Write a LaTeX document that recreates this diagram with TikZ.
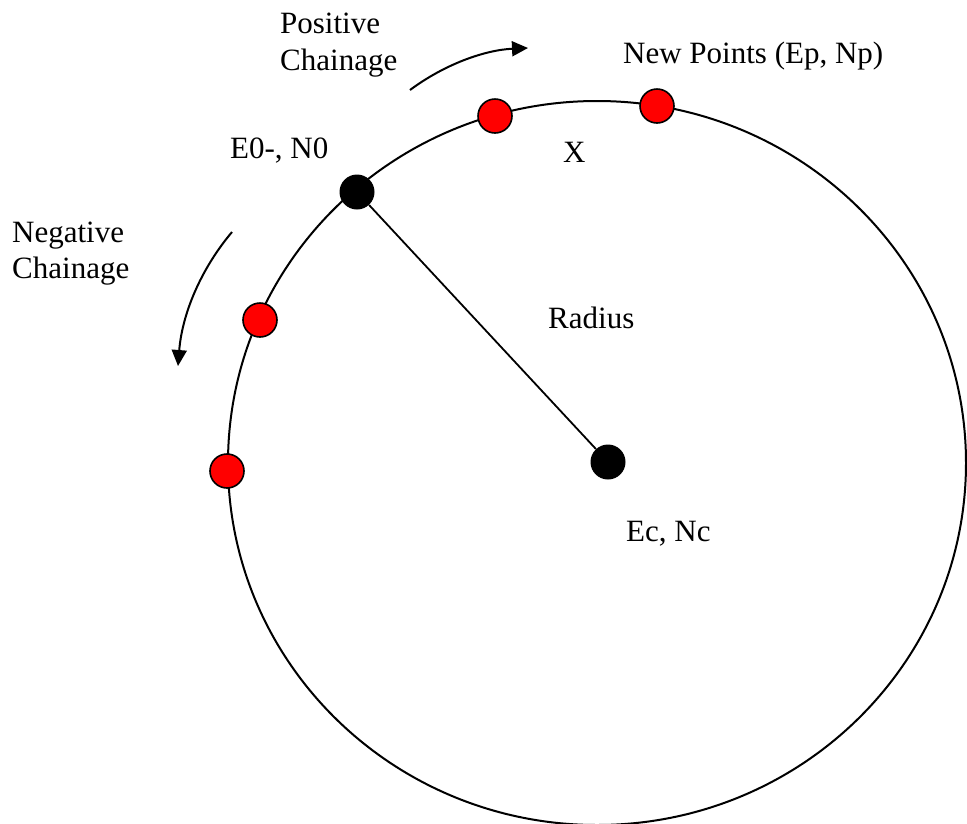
\documentclass[tikz,border=0pt]{standalone}
\usepackage{fontspec}
\setmainfont{Liberation Serif}
\usepackage{tikz}
\usetikzlibrary{positioning, arrows.meta, calc}

\begin{document}
\begin{tikzpicture}[
  x=1pt, y=-1pt,
  reddot/.style={circle, draw, line width=1.6pt, fill=red, minimum size=34pt, inner sep=0},
  blackdot/.style={circle, fill=black, minimum size=35pt, inner sep=0},
  lbl/.style={font=\fontsize{31}{36}\selectfont, inner sep=0, anchor=base west, align=left},
  chain/.style={line width=2pt, -{Triangle[length=16pt, width=15pt]}}
]
  \useasboundingbox (0,0) rectangle (967,823);

  % Circle
  \draw[line width=2pt] (597,463) ellipse [x radius=369, y radius=362];

  % Radius
  \node[blackdot] (e0) at (357,192) {};
  \node[blackdot] (cen) at (608,462) {};
  \draw[line width=1.8pt] (e0) -- (cen);

  % New points
  \node[reddot] (p1) at (495,116) {};
  \node[reddot] (p2) at (657,106) {};
  \node[reddot] (n1) at (260,320) {};
  \node[reddot] (n2) at (227,471) {};

  % Chainage arrows
  \coordinate (posA) at (410,90);
  \coordinate (posB) at (528,48);
  \draw[chain] (posA) .. controls (445,64) and (485,50) .. (posB);
  \coordinate (negA) at (232,232);
  \coordinate (negB) at (178,366);
  \draw[chain] (negA) .. controls (200,270) and (182,315) .. (negB);

  % Labels
  \node[lbl] (poslbl) at (280,33) {Positive};
  \node[lbl] (poslbl2) at (280,70) {Chainage};
  \node[lbl] (neglbl) at (12,242) {Negative};
  \node[lbl] (neglbl2) at (12,278) {Chainage};
  \node[lbl] (e0lbl) at (230,158) {E0-, N0};
  \node[lbl] (newlbl) at (623,63) {New Points (Ep, Np)};
  \node[lbl] (xlbl) at (563,162) {X};
  \node[lbl] (radlbl) at (548,328) {Radius};
  \node[lbl] (cenlbl) at (626,541) {Ec, Nc};
\end{tikzpicture}
\end{document}
